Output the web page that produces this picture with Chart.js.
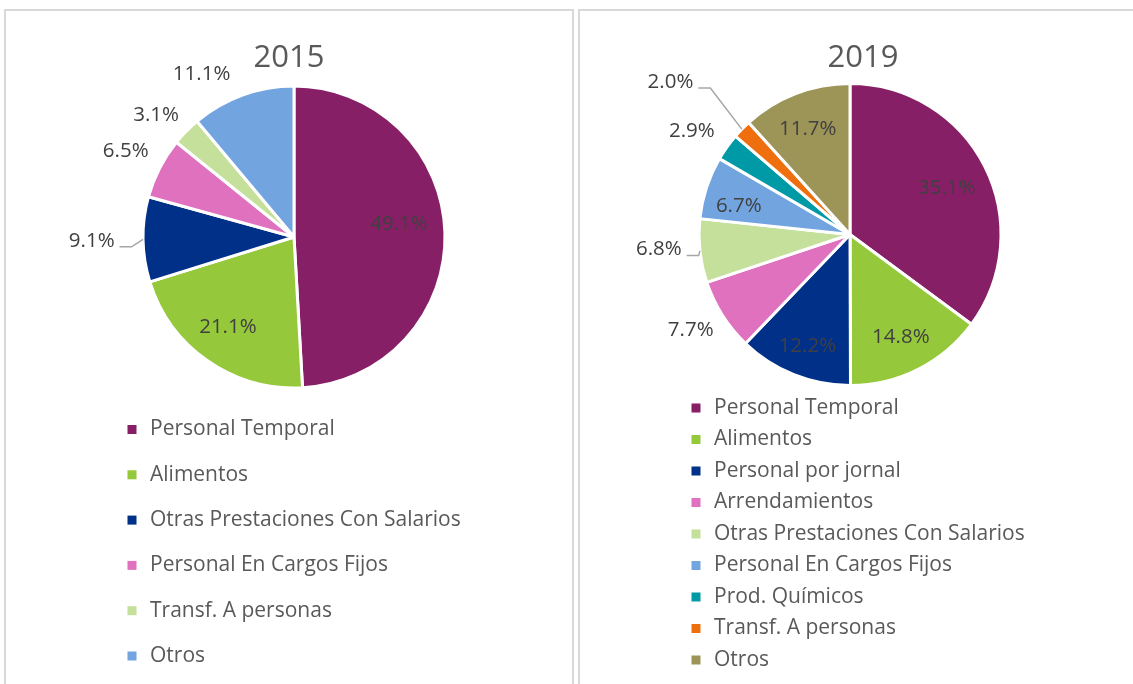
<!DOCTYPE html>
<html>
<head>
<meta charset="utf-8">
<script src="https://cdn.jsdelivr.net/npm/chart.js@4.4.1/dist/chart.umd.min.js"></script>
<style>
    body { margin: 0; background: #fff; width: 1133px; height: 684px; overflow: hidden; position: relative; }
    .panel { position: absolute; top: 9px; width: 566px; height: 690px; border: 2px solid #d9d9d9; }
    #p1 { left: 4px; }
    #p2 { left: 578px; }
    canvas { display: block; }
</style>
</head>
<body>
<div class="panel" id="p1"><canvas id="c2015" width="566" height="690"></canvas></div>
<div class="panel" id="p2"><canvas id="c2019" width="566" height="690"></canvas></div>
<script>
// --- data ---
const labels2015 = ["Personal Temporal", "Alimentos", "Otras Prestaciones Con Salarios",
    "Personal En Cargos Fijos", "Transf. A personas", "Otros"];
const values2015 = [49.1, 21.1, 9.1, 6.5, 3.1, 11.1];

const labels2019 = ["Personal Temporal", "Alimentos", "Personal por jornal", "Arrendamientos",
    "Otras Prestaciones Con Salarios", "Personal En Cargos Fijos", "Prod. Químicos",
    "Transf. A personas", "Otros"];
const values2019 = [35.1, 14.8, 12.2, 7.7, 6.8, 6.7, 2.9, 2.0, 11.7];

// --- styles ---
const colors2015 = ["#871f66", "#96c83b", "#003087", "#df71be", "#c4e09b", "#72a5e0"];
const colors2019 = ["#871f66", "#96c83b", "#003087", "#df71be", "#c4e09b", "#72a5e0", "#0099a6", "#ef6f0f", "#9d9457"];

// label placement: [fraction along slice, radius factor, leader line]
const place2015 = [[0.47, 0.70], [0.52, 0.74], [0.495, 1.34, true], [0.49, 1.25], [0.24, 1.22], [0.26, 1.24]];
const place2019 = [[0.51, 0.71], [0.51, 0.76], [0.48, 0.79], [0.55, 1.23], [0.57, 1.27, true],
    [0.34, 0.76], [0.28, 1.25], [-0.04, 1.56, true], [0.48, 0.75]];

const FONT = '"Open Sans", "Noto Sans", sans-serif';

const pieExtras = {
    id: 'pieExtras',
    afterDatasetsDraw(chart, args, opts) {
        const ctx = chart.ctx;
        const meta = chart.getDatasetMeta(0);
        const data = chart.data.datasets[0].data;
        ctx.save();
        ctx.font = '20.5px ' + FONT;
        ctx.textAlign = 'center';
        ctx.textBaseline = 'middle';
        meta.data.forEach((arc, i) => {
            const p = arc.getProps(['x', 'y', 'startAngle', 'endAngle', 'outerRadius'], true);
            const [t, k, leader] = opts.place[i];
            const a = p.startAngle + (p.endAngle - p.startAngle) * t;
            const lx = p.x + Math.cos(a) * p.outerRadius * k;
            const ly = p.y + Math.sin(a) * p.outerRadius * k;
            const text = data[i].toFixed(1) + '%';
            ctx.fillStyle = '#404040';
            ctx.fillText(text, lx, ly);
            if (leader) {
                const right = lx + ctx.measureText(text).width / 2;
                const mid = (p.startAngle + p.endAngle) / 2;
                const ex = p.x + Math.cos(mid) * p.outerRadius;
                const ey = p.y + Math.sin(mid) * p.outerRadius;
                ctx.strokeStyle = '#a6a6a6';
                ctx.lineWidth = 1.5;
                ctx.beginPath();
                ctx.moveTo(right + 5, ly + 6);
                ctx.lineTo(right + 17, ly + 6);
                ctx.lineTo(ex, ey);
                ctx.stroke();
            }
        });
        ctx.restore();
    },
    afterDraw(chart, args, opts) {
        const ctx = chart.ctx;
        const ds = chart.data.datasets[0];
        ctx.save();
        ctx.fillStyle = '#595959';
        ctx.font = '31px ' + FONT;
        ctx.textAlign = 'center';
        ctx.textBaseline = 'alphabetic';
        ctx.fillText(opts.title, chart.width / 2, opts.titleY);

        ctx.font = '21px ' + FONT;
        ctx.textAlign = 'left';
        ctx.textBaseline = 'middle';
        chart.data.labels.forEach((lab, i) => {
            const y = opts.legendY + i * opts.legendStep;
            ctx.fillStyle = ds.backgroundColor[i];
            ctx.fillRect(opts.legendX - 4.5, y - 4.5, 9, 9);
            ctx.fillStyle = '#595959';
            ctx.fillText(lab, opts.legendX + 18, y);
        });
        ctx.restore();
    }
};

function makePie(id, labels, values, colors, padding, extras) {
    return new Chart(document.getElementById(id), {
        type: 'pie',
        data: {
            labels: labels,
            datasets: [{
                data: values,
                backgroundColor: colors,
                borderColor: '#ffffff',
                borderWidth: 3,
                radius: 151
            }]
        },
        options: {
            responsive: false,
            animation: false,
            layout: { padding: padding },
            plugins: {
                legend: { display: false },
                tooltip: { enabled: false },
                title: { display: false },
                pieExtras: extras
            }
        },
        plugins: [pieExtras]
    });
}

makePie('c2015', labels2015, values2015, colors2015,
    { left: 138, right: 128, top: 76, bottom: 314 },
    { title: '2015', titleY: 55.7, place: place2015, legendX: 126, legendY: 418.5, legendStep: 45.3 });

makePie('c2019', labels2019, values2019, colors2019,
    { left: 120, right: 146, top: 73.5, bottom: 316.5 },
    { title: '2019', titleY: 55.7, place: place2019, legendX: 116, legendY: 397, legendStep: 31.5 });
</script>
</body>
</html>
